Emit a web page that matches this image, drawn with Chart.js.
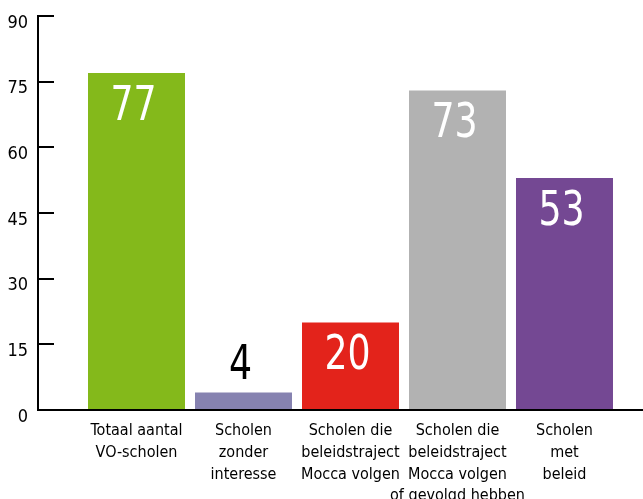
<!DOCTYPE html>
<html>
<head>
<meta charset="utf-8">
<script src="https://cdn.jsdelivr.net/npm/chart.js@4.4.1/dist/chart.umd.min.js"></script>
<style>
html,body{margin:0;padding:0;background:#fff;}
#wrap{width:643px;height:499px;position:relative;}
</style>
</head>
<body>
<div id="wrap"><canvas id="c" width="643" height="499"></canvas></div>
<script>
const categories = [
  ["Totaal aantal", "VO-scholen"],
  ["Scholen", "zonder", "interesse"],
  ["Scholen die", "beleidstraject", "Mocca volgen"],
  ["Scholen die", "beleidstraject", "Mocca volgen", "of gevolgd hebben"],
  ["Scholen", "met", "beleid"]
];
const values = [77, 4, 20, 73, 53];
const barColors = ["#84B91B", "#8682B0", "#E3231B", "#B2B2B2", "#744893"];
const yTicks = [0, 15, 30, 45, 60, 75, 90];

const FONT = '"DejaVu Sans Condensed", "Liberation Sans", sans-serif';

const valueLabels = {
  id: 'valueLabels',
  afterDatasetsDraw(chart) {
    const ctx = chart.ctx;
    const meta = chart.getDatasetMeta(0);
    meta.data.forEach((bar, i) => {
      const txt = String(values[i]);
      const h = bar.base - bar.y;
      const inside = h > 60;
      const ty = inside ? bar.y + 47 : bar.y - 13;
      ctx.save();
      ctx.translate(bar.x - 3, ty);
      ctx.scale(0.84, 1);
      ctx.font = '48px ' + FONT;
      ctx.textAlign = 'center';
      ctx.textBaseline = 'alphabetic';
      ctx.fillStyle = inside ? '#ffffff' : '#000000';
      ctx.fillText(txt, 0, 0);
      ctx.restore();
    });
  }
};

new Chart(document.getElementById('c'), {
  type: 'bar',
  data: {
    datasets: [{
      data: values.map((v, i) => ({x: i, y: v})),
      backgroundColor: barColors,
      borderWidth: 0,
      categoryPercentage: 1,
      barPercentage: 0.9065
    }]
  },
  options: {
    responsive: false,
    animation: false,
    devicePixelRatio: 1,
    layout: { padding: { top: 16, right: 0, bottom: 0, left: 0 } },
    plugins: { legend: { display: false }, tooltip: { enabled: false } },
    scales: {
      x: {
        type: 'linear',
        offset: false,
        min: -0.9206,
        max: 4.7337,
        grid: { display: false, offset: false },
        border: { display: true, color: '#000', width: 2 },
        ticks: {
          stepSize: 1,
          includeBounds: false,
          autoSkip: false,
          maxRotation: 0,
          padding: 2,
          color: '#000',
          font: { family: FONT, size: 16, lineHeight: 1.36 },
          callback: (v) => (Number.isInteger(v) && categories[v]) ? categories[v] : ''
        },
        afterFit: (s) => { s.height = 89; s.paddingLeft = 0; s.paddingRight = 0; }
      },
      y: {
        min: 0,
        max: 90,
        afterBuildTicks: (s) => { s.ticks = yTicks.map(v => ({value: v})); },
        grid: { display: true, drawOnChartArea: false, drawTicks: true, tickLength: -16, color: '#000', lineWidth: 2 },
        border: { display: true, color: '#000', width: 2 },
        ticks: {
          padding: 26,
          labelOffset: 7,
          color: '#000',
          font: { family: FONT, size: 18 }
        },
        afterFit: (s) => { s.width = 38; s.paddingTop = 0; s.paddingBottom = 0; }
      }
    }
  },
  plugins: [valueLabels]
});
</script>
</body>
</html>
